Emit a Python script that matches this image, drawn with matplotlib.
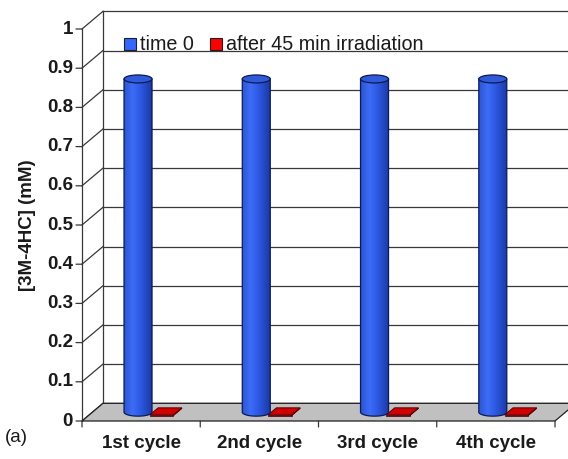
import numpy as np
import matplotlib
matplotlib.use("Agg")
import matplotlib.pyplot as plt
from matplotlib.patches import Polygon, Rectangle, Ellipse, PathPatch
from matplotlib.path import Path
from matplotlib.colors import LinearSegmentedColormap
import matplotlib.transforms as mtransforms

plt.rcParams["font.family"] = ["Liberation Sans", "DejaVu Sans"]

# Data
categories = ["1st cycle", "2nd cycle", "3rd cycle", "4th cycle"]
time0 = [0.85, 0.85, 0.85, 0.85]
after45 = [0.002, 0.002, 0.002, 0.002]
series_names = ["time 0", "after 45 min irradiation"]
yticks = [0, 0.1, 0.2, 0.3, 0.4, 0.5, 0.6, 0.7, 0.8, 0.9, 1]
ytick_labels = ["0", "0.1", "0.2", "0.3", "0.4", "0.5", "0.6", "0.7", "0.8", "0.9", "1"]

W, H, DPI = 568, 459, 100
fig = plt.figure(figsize=(W / DPI, H / DPI), dpi=DPI)
ax = fig.add_axes([0, 0, 1, 1])
ax.set_axis_off()

# pixel geometry of the front plane
px_x0, px_unit_x = 82.0, 118.25
px_y0_top, px_unit_y = 421.0, 392.0
XLIM = (-px_x0 / px_unit_x, (W - px_x0) / px_unit_x)
YLIM = (-(H - px_y0_top) / px_unit_y, px_y0_top / px_unit_y)

# oblique depth projection (full depth)
DX = 21.0 / px_unit_x
DY = 17.7 / px_unit_y
ncat = len(categories)


def P(x, y, d):
    return (x + d * DX, y + d * DY)


def px(dx=0, dy=0):
    return mtransforms.offset_copy(ax.transData, fig=fig, x=dx, y=dy, units="dots")


grid_col = "#383838"
lw = 0.9

# back wall gridlines, left wall diagonals, y ticks and labels
for v, lab in zip(yticks, ytick_labels):
    a, b = P(0, v, 1), P(ncat + 0.3, v, 1)
    ax.plot([a[0], b[0]], [a[1], b[1]], color=grid_col, lw=lw, zorder=1)
    c = P(0, v, 0)
    ax.plot([c[0], a[0]], [c[1], a[1]], color=grid_col, lw=lw, zorder=1)
    ax.annotate("", xy=(0, v), xytext=(-6, 0), textcoords="offset pixels",
                xycoords="data",
                arrowprops=dict(arrowstyle="-", color=grid_col, lw=lw,
                                shrinkA=0, shrinkB=0))
    ax.text(0, v, lab, transform=px(-9, 0),
            ha="right", va="center", fontsize=13.5, fontweight="bold",
            color="#1a1a1a")

# back-left vertical edge and front-left axis
a, b = P(0, 0, 1), P(0, 1, 1)
ax.plot([a[0], b[0]], [a[1], b[1]], color=grid_col, lw=lw, zorder=1)
ax.plot([0, 0], [0, 1], color=grid_col, lw=lw, zorder=1)

# floor
floor = Polygon([P(0, 0, 0), P(ncat, 0, 0), P(ncat, 0, 1), P(0, 0, 1)],
                closed=True, facecolor="#c0c0c0", edgecolor="#202020",
                lw=lw, zorder=2)
ax.add_patch(floor)

# category ticks below the front edge
for k in range(ncat + 1):
    ax.annotate("", xy=(k, 0), xytext=(0, -6), textcoords="offset pixels",
                arrowprops=dict(arrowstyle="-", color=grid_col, lw=lw,
                                shrinkA=0, shrinkB=0))

for i, name in enumerate(categories):
    ax.text(i + 0.5, 0, name, transform=px(0, -27), ha="center",
            va="baseline", fontsize=13.5, fontweight="bold", color="#1a1a1a")

# colours
blue_cmap = LinearSegmentedColormap.from_list(
    "cyl", [(0.0, "#2a55d8"), (0.3, "#3d6cf5"), (0.55, "#2f5ce8"),
            (1.0, "#1a3aa8")])
navy = "#0d1a55"
top_blue = "#2f5ad8"

cyl_w = 28.0 / px_unit_x
ell_h = 4.0 / px_unit_y
blue_off = -0.115
red_off = 0.12
red_w = 0.2
red_d0, red_d1 = 0.3, 0.7

for i in range(ncat):
    # red box (almost flat)
    xc = i + 0.5 + red_off
    x0, x1 = xc - red_w / 2, xc + red_w / 2
    v = after45[i]
    front = Polygon([P(x0, 0, red_d0), P(x1, 0, red_d0), P(x1, v, red_d0),
                     P(x0, v, red_d0)], closed=True, facecolor="#8a0000",
                    edgecolor="#500000", lw=0.5, zorder=3)
    side = Polygon([P(x1, 0, red_d0), P(x1, 0, red_d1), P(x1, v, red_d1),
                    P(x1, v, red_d0)], closed=True, facecolor="#700000",
                   edgecolor="#500000", lw=0.5, zorder=3)
    top = Polygon([P(x0, v, red_d0), P(x1, v, red_d0), P(x1, v, red_d1),
                   P(x0, v, red_d1)], closed=True, facecolor="#d00000",
                  edgecolor="#5a0000", lw=0.7, zorder=3)
    for p in (front, side, top):
        ax.add_patch(p)

    # blue cylinder at mid depth
    cx, yb = P(i + 0.5 + blue_off, 0, 0.5)
    _, yt = P(i + 0.5 + blue_off, time0[i], 0.5)
    r = cyl_w / 2
    th = np.linspace(np.pi, 2 * np.pi, 60)
    verts = [(cx - r, yt), (cx - r, yb)]
    verts += list(zip(cx + r * np.cos(th), yb + ell_h * np.sin(th)))
    verts += [(cx + r, yb), (cx + r, yt), (cx - r, yt)]
    codes = [Path.MOVETO] + [Path.LINETO] * (len(verts) - 2) + [Path.CLOSEPOLY]
    body_path = Path(verts, codes)
    body = PathPatch(body_path, facecolor="none", edgecolor=navy, lw=0.9,
                     zorder=5)
    grad = np.linspace(0, 1, 64).reshape(1, -1)
    im = ax.imshow(grad, cmap=blue_cmap, aspect="auto",
                   extent=(cx - r, cx + r, yb - ell_h, yt), zorder=4,
                   interpolation="bilinear")
    ax.add_patch(body)
    im.set_clip_path(body)
    cap = Ellipse((cx, yt), 2 * r, 2 * ell_h, facecolor=top_blue,
                  edgecolor=navy, lw=0.9, zorder=6)
    ax.add_patch(cap)

# legend
leg_y = (px_y0_top - 49.5) / px_unit_y
sq_w = 12.0 / px_unit_x
sq_h = 11.5 / px_unit_y
for xs, xt, col, name in [((124 - px_x0) / px_unit_x, (140 - px_x0) / px_unit_x,
                           "#3366ff", series_names[0]),
                          ((210 - px_x0) / px_unit_x, (226 - px_x0) / px_unit_x,
                           "#ff0000", series_names[1])]:
    ax.add_patch(Rectangle((xs, leg_y), sq_w, sq_h, facecolor=col,
                           edgecolor="#202020", lw=0.8, zorder=7))
    ax.text(xt, leg_y, name, ha="left", va="baseline", fontsize=14.2,
            color="#1a1a1a", zorder=7)

# y axis title and panel label
ax.text((28 - px_x0) / px_unit_x, 0.5, "[3M-4HC] (mM)", rotation=90,
        ha="center", va="center", fontsize=13.5, fontweight="bold",
        color="#1a1a1a")
ax.text((5 - px_x0) / px_unit_x, (px_y0_top - 437) / px_unit_y, "(a)",
        ha="left", va="center", fontsize=13.5, color="#1a1a1a")

ax.set_xlim(*XLIM)
ax.set_ylim(*YLIM)
fig.savefig("out.png", dpi=DPI)
